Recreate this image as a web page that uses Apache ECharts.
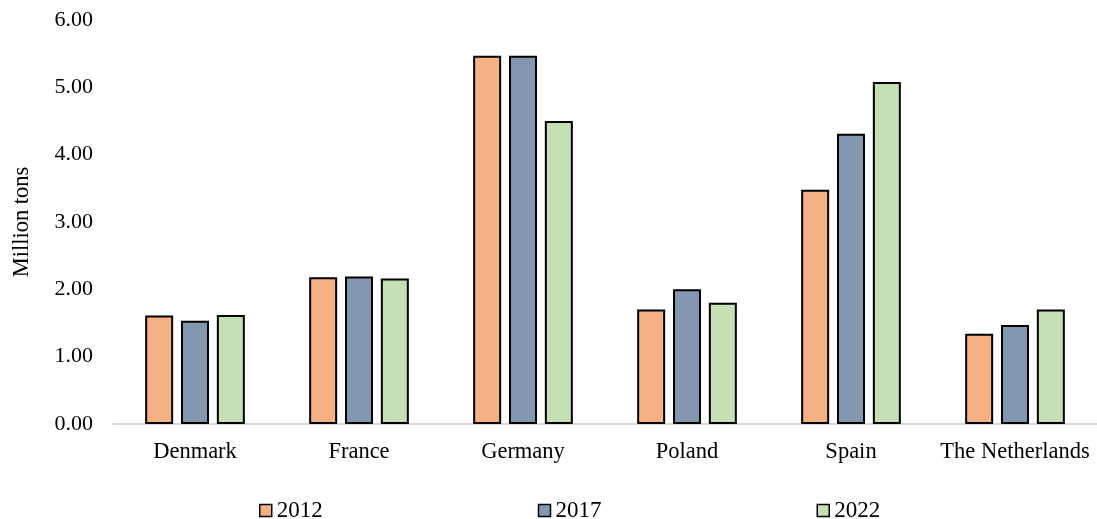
<!DOCTYPE html>
<html><head><meta charset="utf-8">
<script src="https://cdn.jsdelivr.net/npm/echarts@6/dist/echarts.min.js"></script>
<style>html,body{margin:0;padding:0;background:#fff}#c{width:1097px;height:519px}</style>
</head><body><div id="c"></div>
<script>
const categories = ['Denmark','France','Germany','Poland','Spain','The Netherlands'];
const s2012 = [1.61, 2.18, 5.47, 1.70, 3.48, 1.34];
const s2017 = [1.535, 2.19, 5.47, 2.00, 4.31, 1.47];
const s2022 = [1.62, 2.16, 4.50, 1.80, 5.08, 1.70];
const yTicks = [0,1,2,3,4,5,6];
const font = 'Liberation Serif';
const chart = echarts.init(document.getElementById('c'));
function ser(name, data, color){
  return {name, type:'bar', data, barWidth:28, barGap:'28%',
    itemStyle:{color, borderColor:'#000', borderWidth:2}};
}
chart.setOption({
  animation:false,
  textStyle:{fontFamily:font},
  grid:{left:113, top:20, width:988, height:404, containLabel:false},
  legend:{left:254, top:494, itemWidth:12, itemHeight:12, itemGap:215, icon:'rect',
    textStyle:{fontFamily:font, fontSize:23, color:'#000'},
    data:['2012','2017','2022'],
    itemStyle:{borderColor:'#000', borderWidth:1.5}},
  xAxis:{type:'category', data:categories,
    axisLine:{lineStyle:{color:'#d9d9d9', width:2}}, axisTick:{show:false},
    axisLabel:{fontFamily:font, fontSize:22.5, color:'#000', margin:17, interval:0, hideOverlap:false}},
  yAxis:{type:'value', min:0, max:6, interval:1,
    name:'Million tons', nameLocation:'middle', nameGap:79, nameRotate:90,
    nameTextStyle:{fontFamily:font, fontSize:22.5, color:'#000'},
    axisLine:{show:false}, axisTick:{show:false}, splitLine:{show:false},
    axisLabel:{fontFamily:font, fontSize:22, color:'#000', margin:20,
      formatter:v=>v.toFixed(2)}},
  series:[ser('2012',s2012,'#F4B183'), ser('2017',s2017,'#8497B0'), ser('2022',s2022,'#C5E0B4')]
});
</script></body></html>
